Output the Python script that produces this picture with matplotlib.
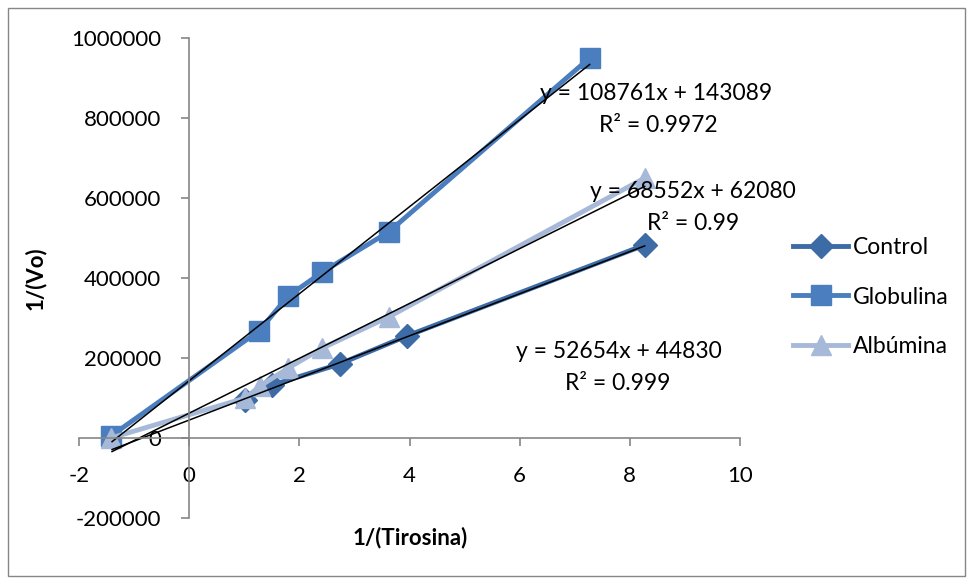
import matplotlib
matplotlib.use("Agg")
import matplotlib.pyplot as plt
from matplotlib.patches import Rectangle
import numpy as np

plt.rcParams['font.family'] = ['Lato', 'DejaVu Sans']
plt.rcParams['axes.unicode_minus'] = False

# data
control_x = [1.02, 1.51, 2.73, 3.95, 8.27]
control_y = [95000, 132500, 185000, 255000, 482500]
glob_x = [-1.42, 1.27, 1.80, 2.42, 3.62, 7.27]
glob_y = [5000, 268000, 355000, 415000, 515000, 950000]
alb_x = [-1.42, 1.02, 1.29, 1.80, 2.42, 3.62, 8.27]
alb_y = [0, 100000, 130000, 175000, 225000, 302500, 650000]

# trendlines: slope, intercept, x start, x end, equation, r2, label positions
fits = [
    (52654, 44830, -1.4, 8.27, "y = 52654x + 44830", "R² = 0.999",
     (7.80, 215000), (7.78, 137500)),
    (108761, 143089, -1.4, 7.27, "y = 108761x + 143089", "R² = 0.9972",
     (8.47, 862500), (8.51, 782500)),
    (68552, 62080, -1.4, 8.27, "y = 68552x + 62080", "R² = 0.99",
     (9.15, 615000), (9.15, 537500)),
]

xticks = [-2, 0, 2, 4, 6, 8, 10]
yticks = [-200000, 0, 200000, 400000, 600000, 800000, 1000000]

fig = plt.figure(figsize=(9.72, 5.82), dpi=100)
ax = fig.add_axes([79/972, 64/582, 661/972, 480/582])

c_ctrl = "#3D6BA6"
c_glob = "#4A7EBE"
c_alb = "#A7B9D8"

ax.plot(control_x, control_y, color=c_ctrl, lw=3.5, marker="D", ms=12, label="Control")
ax.plot(glob_x, glob_y, color=c_glob, lw=3.5, marker="s", ms=14, label="Globulina")
ax.plot(alb_x, alb_y, color=c_alb, lw=3.5, marker="^", ms=14, label="Albúmina")

for m, b, x0, x1, eq, r2, p1, p2 in fits:
    xs = np.array([x0, x1])
    ax.plot(xs, m * xs + b, color="black", lw=1.1)
    ax.text(p1[0], p1[1], eq, ha="center", va="center", fontsize=16.5)
    ax.text(p2[0], p2[1], r2, ha="center", va="center", fontsize=16.5)

ax.set_xlim(-2, 10)
ax.set_ylim(-200000, 1000000)
ax.set_xticks(xticks)
ax.set_yticks(yticks)
ax.set_yticklabels([str(v) for v in yticks])

for s in ["top", "right"]:
    ax.spines[s].set_visible(False)
ax.spines["left"].set_position(("data", 0))
ax.spines["bottom"].set_position(("data", 0))
for s in ["left", "bottom"]:
    ax.spines[s].set_color("#868686")
    ax.spines[s].set_linewidth(1.2)
ax.tick_params(direction="out", length=6, color="#868686", width=1.2, labelsize=16, pad=14)

fig.text(410/972, 1 - 538/582, "1/(Tirosina)", ha="center", va="center",
         fontsize=16, fontweight="bold")
fig.text(35/972, 1 - 278/582, "1/(Vo)", rotation=90, ha="center", va="center",
         fontsize=16, fontweight="bold")

leg = fig.legend(loc="center left", bbox_to_anchor=(793/972, 1 - 297/582), frameon=False,
                 fontsize=16.5, handlelength=2.4, labelspacing=1.25, handletextpad=0.2,
                 borderpad=0, borderaxespad=0)

fig.patches.append(Rectangle((8/972, 6/582), 957/972, 568/582, transform=fig.transFigure,
                             fill=False, edgecolor="#868686", lw=1))

fig.savefig("out.png", dpi=100)
